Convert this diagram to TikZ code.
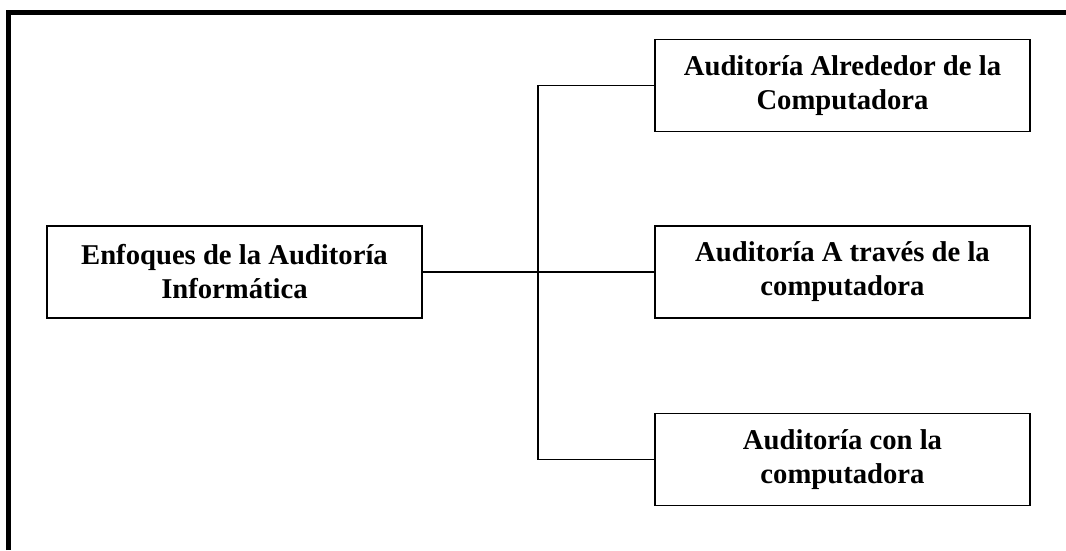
\documentclass[tikz,border=0pt]{standalone}
\usepackage{fontspec}
\setmainfont{Liberation Serif}
\usepackage{xcolor}
\usepackage{tikz}
\usetikzlibrary{positioning}

\begin{document}
\begin{tikzpicture}[x=0.75pt, y=-0.75pt,
    caja/.style={draw, line width=1.3pt, minimum width=281pt, minimum height=69pt,
        align=center, inner sep=0pt, font=\bfseries\fontsize{21.5}{25.5}\selectfont},
    linea/.style={line width=1.3pt}]
    \useasboundingbox (0,0) rectangle (1066,550);

    % Marco
    \draw[line width=3.75pt] (8.5,550) -- (8.5,12.5) -- (1066,12.5);

    % Cajas
    \node[caja] (enfoques) at (234.5,272) {Enfoques de la Auditoría\\Informática};
    \node[caja] (alrededor) at (842.5,85.5) {Auditoría Alrededor de la\\Computadora};
    \node[caja] (traves) at (842.5,272) {Auditoría A través de la\\computadora};
    \node[caja] (con) at (842.5,459.5) {Auditoría con la\\computadora};

    % Conectores
    \coordinate (rama) at (538,272);
    \draw[linea] (enfoques.east) -- (traves.west);
    \draw[linea] (alrededor.west) -| (rama);
    \draw[linea] (rama) |- (con.west);
\end{tikzpicture}
\end{document}
